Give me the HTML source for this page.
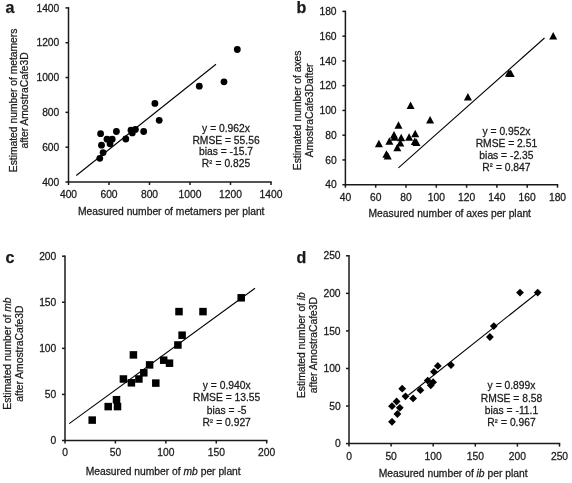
<!DOCTYPE html>
<html><head><meta charset="utf-8"><title>Figure</title>
<style>
html,body{margin:0;padding:0;background:#fff;}
body{width:572px;height:483px;overflow:hidden;}
svg{display:block;will-change:transform;}
text{font-family:"Liberation Sans", sans-serif;fill:#1a1a1a;stroke:#1a1a1a;stroke-width:0.25px;}
</style></head>
<body>
<svg width="572" height="483" viewBox="0 0 572 483">
<rect width="572" height="483" fill="#fff"/>
<line x1="68.5" y1="7.15" x2="68.5" y2="182.5" stroke="#1a1a1a" stroke-width="1.5"/>
<line x1="68" y1="182" x2="271.75" y2="182" stroke="#1a1a1a" stroke-width="1.5"/>
<line x1="65.5" y1="182" x2="68.5" y2="182" stroke="#1a1a1a" stroke-width="1.5"/>
<text transform="translate(59.3,185.6) scale(1.03,1)" text-anchor="end" font-size="10" font-weight="normal" >400</text>
<line x1="65.5" y1="147.18" x2="68.5" y2="147.18" stroke="#1a1a1a" stroke-width="1.5"/>
<text transform="translate(59.3,150.78) scale(1.03,1)" text-anchor="end" font-size="10" font-weight="normal" >600</text>
<line x1="65.5" y1="112.36" x2="68.5" y2="112.36" stroke="#1a1a1a" stroke-width="1.5"/>
<text transform="translate(59.3,115.96) scale(1.03,1)" text-anchor="end" font-size="10" font-weight="normal" >800</text>
<line x1="65.5" y1="77.54" x2="68.5" y2="77.54" stroke="#1a1a1a" stroke-width="1.5"/>
<text transform="translate(59.3,81.14) scale(1.03,1)" text-anchor="end" font-size="10" font-weight="normal" >1000</text>
<line x1="65.5" y1="42.72" x2="68.5" y2="42.72" stroke="#1a1a1a" stroke-width="1.5"/>
<text transform="translate(59.3,46.32) scale(1.03,1)" text-anchor="end" font-size="10" font-weight="normal" >1200</text>
<line x1="65.5" y1="7.9" x2="68.5" y2="7.9" stroke="#1a1a1a" stroke-width="1.5"/>
<text transform="translate(59.3,11.5) scale(1.03,1)" text-anchor="end" font-size="10" font-weight="normal" >1400</text>
<line x1="68.5" y1="182" x2="68.5" y2="185" stroke="#1a1a1a" stroke-width="1.5"/>
<text transform="translate(68.5,197.6) scale(1.03,1)" text-anchor="middle" font-size="10" font-weight="normal" >400</text>
<line x1="109" y1="182" x2="109" y2="185" stroke="#1a1a1a" stroke-width="1.5"/>
<text transform="translate(109,197.6) scale(1.03,1)" text-anchor="middle" font-size="10" font-weight="normal" >600</text>
<line x1="149.5" y1="182" x2="149.5" y2="185" stroke="#1a1a1a" stroke-width="1.5"/>
<text transform="translate(149.5,197.6) scale(1.03,1)" text-anchor="middle" font-size="10" font-weight="normal" >800</text>
<line x1="190" y1="182" x2="190" y2="185" stroke="#1a1a1a" stroke-width="1.5"/>
<text transform="translate(190,197.6) scale(1.03,1)" text-anchor="middle" font-size="10" font-weight="normal" >1000</text>
<line x1="230.5" y1="182" x2="230.5" y2="185" stroke="#1a1a1a" stroke-width="1.5"/>
<text transform="translate(230.5,197.6) scale(1.03,1)" text-anchor="middle" font-size="10" font-weight="normal" >1200</text>
<line x1="271" y1="182" x2="271" y2="185" stroke="#1a1a1a" stroke-width="1.5"/>
<text transform="translate(271,197.6) scale(1.03,1)" text-anchor="middle" font-size="10" font-weight="normal" >1400</text>
<text transform="translate(171.25,214.8) scale(1.03,1)" text-anchor="middle" font-size="10" font-weight="normal" >Measured number of metamers per plant</text>
<text transform="translate(16.6,100.4) rotate(-90)" text-anchor="middle" font-size="10.3">Estimated number of metamers</text>
<text transform="translate(28.3,100.4) rotate(-90)" text-anchor="middle" font-size="10.3">after AmostraCafe3D</text>
<text x="5.6" y="13.2" text-anchor="start" font-size="16" font-weight="bold" >a</text>
<line x1="76.3" y1="175.5" x2="216" y2="64.3" stroke="#000" stroke-width="1.1"/>
<text transform="translate(226,131.6) scale(1.03,1)" text-anchor="middle" font-size="10" font-weight="normal" >y = 0.962x</text>
<text transform="translate(226,143.5) scale(1.03,1)" text-anchor="middle" font-size="10" font-weight="normal" >RMSE = 55.56</text>
<text transform="translate(226,155.4) scale(1.03,1)" text-anchor="middle" font-size="10" font-weight="normal" >bias = -15.7</text>
<text transform="translate(226,167.3) scale(1.03,1)" text-anchor="middle" font-size="10" font-weight="normal" >R<tspan font-size="8.6" dy="-1.3">²</tspan><tspan dy="1.3" dx="0.4"> = 0.825</tspan></text>
<line x1="345.4" y1="10.65" x2="345.4" y2="185.2" stroke="#1a1a1a" stroke-width="1.5"/>
<line x1="344.9" y1="184.7" x2="558.25" y2="184.7" stroke="#1a1a1a" stroke-width="1.5"/>
<line x1="342.4" y1="184.7" x2="345.4" y2="184.7" stroke="#1a1a1a" stroke-width="1.5"/>
<text transform="translate(336.6,188.3) scale(1.03,1)" text-anchor="end" font-size="10" font-weight="normal" >40</text>
<line x1="342.4" y1="159.94" x2="345.4" y2="159.94" stroke="#1a1a1a" stroke-width="1.5"/>
<text transform="translate(336.6,163.54) scale(1.03,1)" text-anchor="end" font-size="10" font-weight="normal" >60</text>
<line x1="342.4" y1="135.19" x2="345.4" y2="135.19" stroke="#1a1a1a" stroke-width="1.5"/>
<text transform="translate(336.6,138.79) scale(1.03,1)" text-anchor="end" font-size="10" font-weight="normal" >80</text>
<line x1="342.4" y1="110.43" x2="345.4" y2="110.43" stroke="#1a1a1a" stroke-width="1.5"/>
<text transform="translate(336.6,114.03) scale(1.03,1)" text-anchor="end" font-size="10" font-weight="normal" >100</text>
<line x1="342.4" y1="85.67" x2="345.4" y2="85.67" stroke="#1a1a1a" stroke-width="1.5"/>
<text transform="translate(336.6,89.27) scale(1.03,1)" text-anchor="end" font-size="10" font-weight="normal" >120</text>
<line x1="342.4" y1="60.91" x2="345.4" y2="60.91" stroke="#1a1a1a" stroke-width="1.5"/>
<text transform="translate(336.6,64.51) scale(1.03,1)" text-anchor="end" font-size="10" font-weight="normal" >140</text>
<line x1="342.4" y1="36.16" x2="345.4" y2="36.16" stroke="#1a1a1a" stroke-width="1.5"/>
<text transform="translate(336.6,39.76) scale(1.03,1)" text-anchor="end" font-size="10" font-weight="normal" >160</text>
<line x1="342.4" y1="11.4" x2="345.4" y2="11.4" stroke="#1a1a1a" stroke-width="1.5"/>
<text transform="translate(336.6,15) scale(1.03,1)" text-anchor="end" font-size="10" font-weight="normal" >180</text>
<line x1="345.4" y1="184.7" x2="345.4" y2="187.7" stroke="#1a1a1a" stroke-width="1.5"/>
<text transform="translate(345.4,200.8) scale(1.03,1)" text-anchor="middle" font-size="10" font-weight="normal" >40</text>
<line x1="375.7" y1="184.7" x2="375.7" y2="187.7" stroke="#1a1a1a" stroke-width="1.5"/>
<text transform="translate(375.7,200.8) scale(1.03,1)" text-anchor="middle" font-size="10" font-weight="normal" >60</text>
<line x1="406" y1="184.7" x2="406" y2="187.7" stroke="#1a1a1a" stroke-width="1.5"/>
<text transform="translate(406,200.8) scale(1.03,1)" text-anchor="middle" font-size="10" font-weight="normal" >80</text>
<line x1="436.3" y1="184.7" x2="436.3" y2="187.7" stroke="#1a1a1a" stroke-width="1.5"/>
<text transform="translate(436.3,200.8) scale(1.03,1)" text-anchor="middle" font-size="10" font-weight="normal" >100</text>
<line x1="466.6" y1="184.7" x2="466.6" y2="187.7" stroke="#1a1a1a" stroke-width="1.5"/>
<text transform="translate(466.6,200.8) scale(1.03,1)" text-anchor="middle" font-size="10" font-weight="normal" >120</text>
<line x1="496.9" y1="184.7" x2="496.9" y2="187.7" stroke="#1a1a1a" stroke-width="1.5"/>
<text transform="translate(496.9,200.8) scale(1.03,1)" text-anchor="middle" font-size="10" font-weight="normal" >140</text>
<line x1="527.2" y1="184.7" x2="527.2" y2="187.7" stroke="#1a1a1a" stroke-width="1.5"/>
<text transform="translate(527.2,200.8) scale(1.03,1)" text-anchor="middle" font-size="10" font-weight="normal" >160</text>
<line x1="557.5" y1="184.7" x2="557.5" y2="187.7" stroke="#1a1a1a" stroke-width="1.5"/>
<text transform="translate(557.5,200.8) scale(1.03,1)" text-anchor="middle" font-size="10" font-weight="normal" >180</text>
<text transform="translate(449.75,216.8) scale(1.03,1)" text-anchor="middle" font-size="10" font-weight="normal" >Measured number of axes per plant</text>
<text transform="translate(301,110.4) rotate(-90)" text-anchor="middle" font-size="10.3">Estimated number of axes</text>
<text transform="translate(312.7,110.4) rotate(-90)" text-anchor="middle" font-size="10.3">AmostraCafe3Dafter</text>
<text x="296.5" y="12.9" text-anchor="start" font-size="16" font-weight="bold" >b</text>
<line x1="398.4" y1="167.8" x2="544.5" y2="38" stroke="#000" stroke-width="1.1"/>
<text transform="translate(506.4,134.5) scale(1.03,1)" text-anchor="middle" font-size="10" font-weight="normal" >y = 0.952x</text>
<text transform="translate(506.4,146.5) scale(1.03,1)" text-anchor="middle" font-size="10" font-weight="normal" >RMSE = 2.51</text>
<text transform="translate(506.4,158.5) scale(1.03,1)" text-anchor="middle" font-size="10" font-weight="normal" >bias = -2.35</text>
<text transform="translate(506.4,170.5) scale(1.03,1)" text-anchor="middle" font-size="10" font-weight="normal" >R<tspan font-size="8.6" dy="-1.3">²</tspan><tspan dy="1.3" dx="0.4"> = 0.847</tspan></text>
<line x1="65" y1="255.45" x2="65" y2="441" stroke="#1a1a1a" stroke-width="1.5"/>
<line x1="64.5" y1="440.5" x2="267.45" y2="440.5" stroke="#1a1a1a" stroke-width="1.5"/>
<line x1="62" y1="440.5" x2="65" y2="440.5" stroke="#1a1a1a" stroke-width="1.5"/>
<text transform="translate(56.3,444.1) scale(1.03,1)" text-anchor="end" font-size="10" font-weight="normal" >0</text>
<line x1="62" y1="394.43" x2="65" y2="394.43" stroke="#1a1a1a" stroke-width="1.5"/>
<text transform="translate(56.3,398.03) scale(1.03,1)" text-anchor="end" font-size="10" font-weight="normal" >50</text>
<line x1="62" y1="348.35" x2="65" y2="348.35" stroke="#1a1a1a" stroke-width="1.5"/>
<text transform="translate(56.3,351.95) scale(1.03,1)" text-anchor="end" font-size="10" font-weight="normal" >100</text>
<line x1="62" y1="302.27" x2="65" y2="302.27" stroke="#1a1a1a" stroke-width="1.5"/>
<text transform="translate(56.3,305.88) scale(1.03,1)" text-anchor="end" font-size="10" font-weight="normal" >150</text>
<line x1="62" y1="256.2" x2="65" y2="256.2" stroke="#1a1a1a" stroke-width="1.5"/>
<text transform="translate(56.3,259.8) scale(1.03,1)" text-anchor="end" font-size="10" font-weight="normal" >200</text>
<line x1="65" y1="440.5" x2="65" y2="443.5" stroke="#1a1a1a" stroke-width="1.5"/>
<text transform="translate(65,456.2) scale(1.03,1)" text-anchor="middle" font-size="10" font-weight="normal" >0</text>
<line x1="115.42" y1="440.5" x2="115.42" y2="443.5" stroke="#1a1a1a" stroke-width="1.5"/>
<text transform="translate(115.42,456.2) scale(1.03,1)" text-anchor="middle" font-size="10" font-weight="normal" >50</text>
<line x1="165.85" y1="440.5" x2="165.85" y2="443.5" stroke="#1a1a1a" stroke-width="1.5"/>
<text transform="translate(165.85,456.2) scale(1.03,1)" text-anchor="middle" font-size="10" font-weight="normal" >100</text>
<line x1="216.27" y1="440.5" x2="216.27" y2="443.5" stroke="#1a1a1a" stroke-width="1.5"/>
<text transform="translate(216.27,456.2) scale(1.03,1)" text-anchor="middle" font-size="10" font-weight="normal" >150</text>
<line x1="266.7" y1="440.5" x2="266.7" y2="443.5" stroke="#1a1a1a" stroke-width="1.5"/>
<text transform="translate(266.7,456.2) scale(1.03,1)" text-anchor="middle" font-size="10" font-weight="normal" >200</text>
<text transform="translate(163.2,475.3) scale(1.03,1)" text-anchor="middle" font-size="10" font-weight="normal" >Measured number of <tspan font-style="italic">mb</tspan> per plant</text>
<text transform="translate(11.2,353.6) rotate(-90)" text-anchor="middle" font-size="10.3">Estimated number of <tspan font-style="italic">mb</tspan></text>
<text transform="translate(23,353.6) rotate(-90)" text-anchor="middle" font-size="10.3">after AmostraCafe3D</text>
<text x="5.5" y="263.4" text-anchor="start" font-size="16" font-weight="bold" >c</text>
<line x1="69.2" y1="423.6" x2="255" y2="288.3" stroke="#000" stroke-width="1.1"/>
<text transform="translate(226.7,389.2) scale(1.03,1)" text-anchor="middle" font-size="10" font-weight="normal" >y = 0.940x</text>
<text transform="translate(226.7,401.4) scale(1.03,1)" text-anchor="middle" font-size="10" font-weight="normal" >RMSE = 13.55</text>
<text transform="translate(226.7,413.6) scale(1.03,1)" text-anchor="middle" font-size="10" font-weight="normal" >bias = -5</text>
<text transform="translate(226.7,425.8) scale(1.03,1)" text-anchor="middle" font-size="10" font-weight="normal" >R<tspan font-size="8.6" dy="-1.3">²</tspan><tspan dy="1.3" dx="0.4"> = 0.927</tspan></text>
<line x1="349" y1="255.05" x2="349" y2="444.1" stroke="#1a1a1a" stroke-width="1.5"/>
<line x1="348.5" y1="443.6" x2="560.25" y2="443.6" stroke="#1a1a1a" stroke-width="1.5"/>
<line x1="346" y1="443.6" x2="349" y2="443.6" stroke="#1a1a1a" stroke-width="1.5"/>
<text transform="translate(340.6,447.2) scale(1.03,1)" text-anchor="end" font-size="10" font-weight="normal" >0</text>
<line x1="346" y1="406.04" x2="349" y2="406.04" stroke="#1a1a1a" stroke-width="1.5"/>
<text transform="translate(340.6,409.64) scale(1.03,1)" text-anchor="end" font-size="10" font-weight="normal" >50</text>
<line x1="346" y1="368.48" x2="349" y2="368.48" stroke="#1a1a1a" stroke-width="1.5"/>
<text transform="translate(340.6,372.08) scale(1.03,1)" text-anchor="end" font-size="10" font-weight="normal" >100</text>
<line x1="346" y1="330.92" x2="349" y2="330.92" stroke="#1a1a1a" stroke-width="1.5"/>
<text transform="translate(340.6,334.52) scale(1.03,1)" text-anchor="end" font-size="10" font-weight="normal" >150</text>
<line x1="346" y1="293.36" x2="349" y2="293.36" stroke="#1a1a1a" stroke-width="1.5"/>
<text transform="translate(340.6,296.96) scale(1.03,1)" text-anchor="end" font-size="10" font-weight="normal" >200</text>
<line x1="346" y1="255.8" x2="349" y2="255.8" stroke="#1a1a1a" stroke-width="1.5"/>
<text transform="translate(340.6,259.4) scale(1.03,1)" text-anchor="end" font-size="10" font-weight="normal" >250</text>
<line x1="349" y1="443.6" x2="349" y2="446.6" stroke="#1a1a1a" stroke-width="1.5"/>
<text transform="translate(349,459.6) scale(1.03,1)" text-anchor="middle" font-size="10" font-weight="normal" >0</text>
<line x1="391.1" y1="443.6" x2="391.1" y2="446.6" stroke="#1a1a1a" stroke-width="1.5"/>
<text transform="translate(391.1,459.6) scale(1.03,1)" text-anchor="middle" font-size="10" font-weight="normal" >50</text>
<line x1="433.2" y1="443.6" x2="433.2" y2="446.6" stroke="#1a1a1a" stroke-width="1.5"/>
<text transform="translate(433.2,459.6) scale(1.03,1)" text-anchor="middle" font-size="10" font-weight="normal" >100</text>
<line x1="475.3" y1="443.6" x2="475.3" y2="446.6" stroke="#1a1a1a" stroke-width="1.5"/>
<text transform="translate(475.3,459.6) scale(1.03,1)" text-anchor="middle" font-size="10" font-weight="normal" >150</text>
<line x1="517.4" y1="443.6" x2="517.4" y2="446.6" stroke="#1a1a1a" stroke-width="1.5"/>
<text transform="translate(517.4,459.6) scale(1.03,1)" text-anchor="middle" font-size="10" font-weight="normal" >200</text>
<line x1="559.5" y1="443.6" x2="559.5" y2="446.6" stroke="#1a1a1a" stroke-width="1.5"/>
<text transform="translate(559.5,459.6) scale(1.03,1)" text-anchor="middle" font-size="10" font-weight="normal" >250</text>
<text transform="translate(453.15,476.7) scale(1.03,1)" text-anchor="middle" font-size="10" font-weight="normal" >Measured number of <tspan font-style="italic">ib</tspan> per plant</text>
<text transform="translate(305,345.1) rotate(-90)" text-anchor="middle" font-size="10.3">Estimated number of <tspan font-style="italic">ib</tspan></text>
<text transform="translate(316.8,345.1) rotate(-90)" text-anchor="middle" font-size="10.3">after AmostraCafe3D</text>
<text x="296.5" y="263.2" text-anchor="start" font-size="16" font-weight="bold" >d</text>
<line x1="408.4" y1="395.2" x2="537" y2="293.2" stroke="#000" stroke-width="1.1"/>
<text transform="translate(511.5,389.3) scale(1.03,1)" text-anchor="middle" font-size="10" font-weight="normal" >y = 0.899x</text>
<text transform="translate(511.5,401.5) scale(1.03,1)" text-anchor="middle" font-size="10" font-weight="normal" >RMSE = 8.58</text>
<text transform="translate(511.5,413.7) scale(1.03,1)" text-anchor="middle" font-size="10" font-weight="normal" >bias = -11.1</text>
<text transform="translate(511.5,425.9) scale(1.03,1)" text-anchor="middle" font-size="10" font-weight="normal" >R<tspan font-size="8.6" dy="-1.3">²</tspan><tspan dy="1.3" dx="0.4"> = 0.967</tspan></text>
<circle cx="237.3" cy="49.5" r="3.4" fill="#000"/>
<circle cx="224" cy="81.8" r="3.4" fill="#000"/>
<circle cx="199.3" cy="86.2" r="3.4" fill="#000"/>
<circle cx="154.9" cy="103.4" r="3.4" fill="#000"/>
<circle cx="159.2" cy="120.3" r="3.4" fill="#000"/>
<circle cx="100.6" cy="133.7" r="3.4" fill="#000"/>
<circle cx="116.4" cy="131.5" r="3.4" fill="#000"/>
<circle cx="131" cy="130.2" r="3.4" fill="#000"/>
<circle cx="135.4" cy="129.4" r="3.4" fill="#000"/>
<circle cx="132.3" cy="132.9" r="3.4" fill="#000"/>
<circle cx="143.7" cy="131.5" r="3.4" fill="#000"/>
<circle cx="125.8" cy="139" r="3.4" fill="#000"/>
<circle cx="107" cy="139.2" r="3.4" fill="#000"/>
<circle cx="112.2" cy="139.2" r="3.4" fill="#000"/>
<circle cx="110" cy="143.8" r="3.4" fill="#000"/>
<circle cx="101.5" cy="145.2" r="3.4" fill="#000"/>
<circle cx="103.1" cy="152.6" r="3.4" fill="#000"/>
<circle cx="99.8" cy="158.3" r="3.4" fill="#000"/>
<path d="M553.2 32.1L557.2 39.6L549.2 39.6Z" fill="#000"/>
<path d="M508.9 69.2L512.9 76.7L504.9 76.7Z" fill="#000"/>
<path d="M510.7 69.4L514.7 76.9L506.7 76.9Z" fill="#000"/>
<path d="M467.9 93L471.9 100.5L463.9 100.5Z" fill="#000"/>
<path d="M430.1 116.1L434.1 123.6L426.1 123.6Z" fill="#000"/>
<path d="M410.6 101.6L414.6 109.1L406.6 109.1Z" fill="#000"/>
<path d="M398.5 121.2L402.5 128.7L394.5 128.7Z" fill="#000"/>
<path d="M378.9 139.8L382.9 147.3L374.9 147.3Z" fill="#000"/>
<path d="M394 131.1L398 138.6L390 138.6Z" fill="#000"/>
<path d="M394.5 133.3L398.5 140.8L390.5 140.8Z" fill="#000"/>
<path d="M389.4 137.2L393.4 144.7L385.4 144.7Z" fill="#000"/>
<path d="M401.2 133.7L405.2 141.2L397.2 141.2Z" fill="#000"/>
<path d="M400.3 138.9L404.3 146.4L396.3 146.4Z" fill="#000"/>
<path d="M397.3 143.7L401.3 151.2L393.3 151.2Z" fill="#000"/>
<path d="M409.1 133.2L413.1 140.7L405.1 140.7Z" fill="#000"/>
<path d="M415.2 129.7L419.2 137.2L411.2 137.2Z" fill="#000"/>
<path d="M414.8 137.6L418.8 145.1L410.8 145.1Z" fill="#000"/>
<path d="M416.5 138.5L420.5 146L412.5 146Z" fill="#000"/>
<path d="M386.4 150.3L390.4 157.8L382.4 157.8Z" fill="#000"/>
<path d="M387.7 152L391.7 159.5L383.7 159.5Z" fill="#000"/>
<rect x="237.45" y="294.05" width="7.5" height="7.5" fill="#000"/>
<rect x="175.25" y="307.85" width="7.5" height="7.5" fill="#000"/>
<rect x="199.25" y="307.85" width="7.5" height="7.5" fill="#000"/>
<rect x="178.35" y="331.45" width="7.5" height="7.5" fill="#000"/>
<rect x="174.15" y="341.25" width="7.5" height="7.5" fill="#000"/>
<rect x="129.65" y="351.15" width="7.5" height="7.5" fill="#000"/>
<rect x="159.95" y="356.45" width="7.5" height="7.5" fill="#000"/>
<rect x="165.75" y="359.45" width="7.5" height="7.5" fill="#000"/>
<rect x="145.85" y="361.15" width="7.5" height="7.5" fill="#000"/>
<rect x="140.05" y="369.05" width="7.5" height="7.5" fill="#000"/>
<rect x="119.65" y="375.25" width="7.5" height="7.5" fill="#000"/>
<rect x="135.15" y="375.25" width="7.5" height="7.5" fill="#000"/>
<rect x="127.65" y="379.05" width="7.5" height="7.5" fill="#000"/>
<rect x="152.05" y="379.35" width="7.5" height="7.5" fill="#000"/>
<rect x="112.75" y="395.95" width="7.5" height="7.5" fill="#000"/>
<rect x="104.45" y="402.85" width="7.5" height="7.5" fill="#000"/>
<rect x="113.75" y="402.85" width="7.5" height="7.5" fill="#000"/>
<rect x="88.45" y="416.35" width="7.5" height="7.5" fill="#000"/>
<path d="M520 288.7L523.9 292.6L520 296.5L516.1 292.6Z" fill="#000"/>
<path d="M537.7 288.7L541.6 292.6L537.7 296.5L533.8 292.6Z" fill="#000"/>
<path d="M493.8 322.2L497.7 326.1L493.8 330L489.9 326.1Z" fill="#000"/>
<path d="M489.9 333.1L493.8 337L489.9 340.9L486 337Z" fill="#000"/>
<path d="M437.8 362L441.7 365.9L437.8 369.8L433.9 365.9Z" fill="#000"/>
<path d="M451 361.2L454.9 365.1L451 369L447.1 365.1Z" fill="#000"/>
<path d="M433.9 367.9L437.8 371.8L433.9 375.7L430 371.8Z" fill="#000"/>
<path d="M427.7 376.7L431.6 380.6L427.7 384.5L423.8 380.6Z" fill="#000"/>
<path d="M433.1 378.3L437 382.2L433.1 386.1L429.2 382.2Z" fill="#000"/>
<path d="M430.8 381.4L434.7 385.3L430.8 389.2L426.9 385.3Z" fill="#000"/>
<path d="M420.4 386.3L424.3 390.2L420.4 394.1L416.5 390.2Z" fill="#000"/>
<path d="M402.2 384.8L406.1 388.7L402.2 392.6L398.3 388.7Z" fill="#000"/>
<path d="M405.5 392.4L409.4 396.3L405.5 400.2L401.6 396.3Z" fill="#000"/>
<path d="M413.1 394.5L417 398.4L413.1 402.3L409.2 398.4Z" fill="#000"/>
<path d="M396.6 397.6L400.5 401.5L396.6 405.4L392.7 401.5Z" fill="#000"/>
<path d="M392 402.3L395.9 406.2L392 410.1L388.1 406.2Z" fill="#000"/>
<path d="M399.8 403.9L403.7 407.8L399.8 411.7L395.9 407.8Z" fill="#000"/>
<path d="M397.4 410.1L401.3 414L397.4 417.9L393.5 414Z" fill="#000"/>
<path d="M392 417.9L395.9 421.8L392 425.7L388.1 421.8Z" fill="#000"/>
</svg>
</body></html>
